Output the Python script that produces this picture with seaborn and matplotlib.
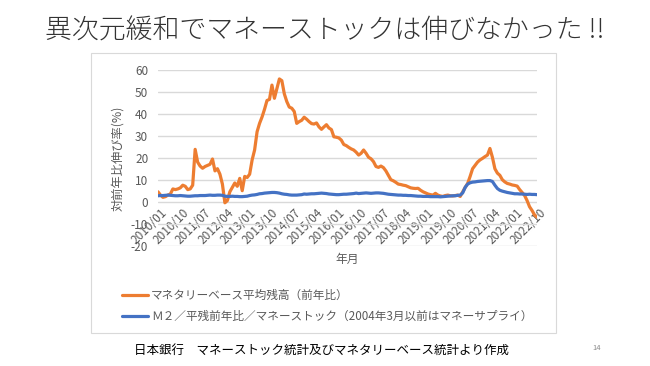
import numpy as np
import pandas as pd
import matplotlib
matplotlib.use("Agg")
import matplotlib.pyplot as plt
from matplotlib.patches import Rectangle
from matplotlib.transforms import ScaledTranslation
import seaborn as sns

# ---- data (monthly, 2010/01 .. 2022/10) ----
months = [d.strftime("%Y/%m") for d in pd.date_range("2010-01-01", periods=154, freq="MS")]

monetary_base = [
    4.5, 3.0, 2.0, 2.3, 3.0, 3.5, 5.8, 5.5, 5.8, 6.3, 7.5, 7.0,
    5.5, 5.8, 7.5, 23.8, 18.0, 16.2, 15.2, 16.0, 16.5, 17.0, 19.4, 14.0,
    15.0, 12.5, 8.0, -0.5, 0.5, 4.5, 6.5, 8.5, 7.0, 10.6, 5.0, 11.5,
    11.0, 12.5, 19.0, 23.5, 31.8, 35.6, 38.5, 42.0, 46.0, 46.5, 53.0, 47.0,
    51.5, 55.8, 55.0, 49.0, 45.5, 43.0, 42.5, 41.0, 35.6, 36.4, 37.0, 38.4,
    37.5, 36.4, 35.5, 35.3, 35.8, 34.0, 32.9, 34.0, 35.0, 33.5, 32.8, 29.5,
    29.3, 29.0, 28.0, 26.0, 25.5, 24.7, 24.0, 23.5, 22.5, 21.2, 22.0, 23.5,
    22.0, 20.2, 19.5, 18.2, 16.0, 15.6, 16.2, 15.5, 14.0, 12.0, 10.0, 9.5,
    8.8, 8.0, 7.8, 7.5, 7.3, 6.8, 6.3, 6.1, 6.0, 6.1, 5.2, 4.5,
    4.0, 3.5, 3.2, 3.0, 3.8, 3.0, 2.6, 2.4, 2.8, 3.0, 2.7, 2.6,
    2.8, 3.0, 2.4, 4.5, 6.5, 8.3, 11.5, 15.0, 16.5, 18.0, 19.0, 19.7,
    20.5, 21.2, 24.2, 20.2, 15.0, 13.0, 12.0, 10.0, 9.0, 8.3, 8.0, 7.6,
    7.4, 7.1, 5.5, 4.2, 2.8, 0.5, -2.3, -4.0, -6.0, -7.0,
]

money_stock = [
    2.7, 2.8, 2.8, 2.9, 3.0, 2.9, 2.8, 2.7, 2.7, 2.8, 2.7, 2.6,
    2.5, 2.5, 2.6, 2.7, 2.7, 2.8, 2.8, 2.8, 2.9, 3.0, 2.9, 2.9,
    3.0, 3.0, 2.9, 2.5, 2.4, 2.4, 2.5, 2.4, 2.4, 2.3, 2.3, 2.4,
    2.5, 2.8, 3.0, 3.1, 3.3, 3.6, 3.7, 3.9, 4.0, 4.1, 4.2, 4.2,
    4.1, 3.9, 3.6, 3.4, 3.3, 3.1, 3.0, 3.0, 3.0, 3.1, 3.2, 3.5,
    3.4, 3.5, 3.6, 3.6, 3.7, 3.8, 3.9, 3.8, 3.7, 3.5, 3.4, 3.3,
    3.2, 3.2, 3.3, 3.4, 3.4, 3.5, 3.6, 3.7, 3.9, 3.7, 3.8, 3.9,
    4.0, 3.9, 3.8, 3.9, 4.0, 4.0, 3.9, 3.8, 3.6, 3.4, 3.3, 3.2,
    3.1, 3.0, 3.0, 2.9, 2.9, 2.8, 2.8, 2.7, 2.6, 2.5, 2.5, 2.4,
    2.4, 2.4, 2.3, 2.3, 2.3, 2.3, 2.2, 2.3, 2.4, 2.5, 2.6, 2.7,
    2.7, 2.9, 3.0, 4.0, 6.5, 8.0, 8.6, 8.9, 9.0, 9.2, 9.3, 9.4,
    9.5, 9.6, 9.6, 9.2, 7.5, 6.0, 5.2, 4.8, 4.5, 4.2, 4.0, 3.8,
    3.6, 3.6, 3.5, 3.5, 3.4, 3.3, 3.4, 3.3, 3.3, 3.2,
]

label_base = "マネタリーベース平均残高（前年比）"
label_m2 = "Ｍ２／平残前年比／マネーストック（2004年3月以前はマネーサプライ）"
y_ticks = [-20, -10, 0, 10, 20, 30, 40, 50, 60]
title = "異次元緩和でマネーストックは伸びなかった !!"
source = "日本銀行　マネーストック統計及びマネタリーベース統計より作成"
page_no = "14"

# ---- style ----
sns.set_style("white")
plt.rcParams["font.family"] = ["Noto Sans CJK JP", "DejaVu Sans"]

ORANGE = "#ED7D31"
BLUE = "#4472C4"
GRAY = "#595959"
GRID = "#d9d9d9"

fig = plt.figure(figsize=(6.5, 3.66), dpi=100)
W, H = 650, 366
ax = fig.add_axes([158 / W, 1 - 245.7 / H, (537 - 158) / W, (245.7 - 69.7) / H])

df = pd.DataFrame({"idx": np.arange(len(months)), "base": monetary_base, "m2": money_stock})
sns.lineplot(data=df, x="idx", y="base", ax=ax, color=ORANGE, lw=2.3, label=label_base)
sns.lineplot(data=df, x="idx", y="m2", ax=ax, color=BLUE, lw=2.3, label=label_m2)

ax.set_ylim(-20, 60)
ax.set_xlim(0, len(months) - 1)
ax.set_yticks(y_ticks)
ax.set_yticklabels([str(v) for v in y_ticks], color=GRAY, fontsize=8.5)
ax.yaxis.grid(True, color=GRID, lw=1.0)
ax.xaxis.grid(False)
ax.set_axisbelow(True)
for s in ax.spines.values():
    s.set_visible(False)
ax.spines["bottom"].set_position(("data", 0))

xt = list(range(0, len(months), 9))
ax.set_xticks(xt)
ax.set_xticklabels([months[i] for i in xt], rotation=45, ha="right",
                   rotation_mode="anchor", color=GRAY, fontsize=8.5)
ax.tick_params(axis="both", length=0)
ax.tick_params(axis="x", pad=3)
ax.tick_params(axis="y", pad=7)
off = ScaledTranslation(2 / 100, 0, fig.dpi_scale_trans)
for lbl in ax.get_xticklabels():
    lbl.set_transform(lbl.get_transform() + off)
ax.set_xlabel("")
ax.set_ylabel("")

# axis titles
fig.text(118 / W, 1 - 158 / H, "対前年比伸び率(%)", rotation=90, ha="center", va="center",
         color=GRAY, fontsize=8.8)
fig.text(347 / W, 1 - 259 / H, "年月", ha="center", va="center", color=GRAY, fontsize=8.5)

# legend
leg = ax.legend(loc="upper left", bbox_to_anchor=(122 / W, 1 - 289 / H),
                bbox_transform=fig.transFigure, frameon=False, fontsize=8.4,
                handlelength=2.25, handletextpad=0.25, labelspacing=0.7,
                borderpad=0, borderaxespad=0)
for t in leg.get_texts():
    t.set_color(GRAY)

# chart box
fig.add_artist(Rectangle((91 / W, 1 - 333 / H), (556 - 91) / W, (333 - 53) / H,
                         transform=fig.transFigure, fill=False, edgecolor=GRID, lw=0.8))

# title / footer
fig.text(325 / W, 1 - 31 / H, title, ha="center", va="center", fontsize=19.4,
         fontweight="light", color="#333333")
fig.text(134 / W, 1 - 350 / H, source, ha="left", va="center", fontsize=9.0, color="black")
fig.text(597 / W, 1 - 348 / H, page_no, ha="center", va="center", fontsize=5.5, color="#8c8c8c")

fig.savefig("out.png", dpi=100)
